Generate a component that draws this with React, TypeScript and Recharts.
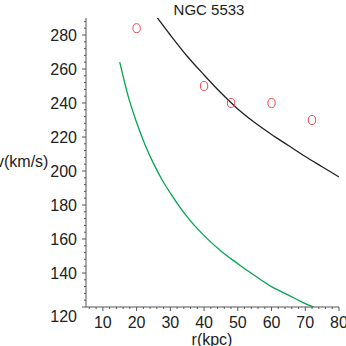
import { ComposedChart, Line, Scatter, XAxis, YAxis } from 'recharts'

// observed rotation curve of NGC 5533
const obsRadius = [20, 40, 48, 60, 72]
const obsVelocity = [284, 250, 240, 240, 230]

// black model curve
const fitRadius = [26, 30, 35, 40, 45, 50, 55, 60, 65, 70, 75, 80]
const fitVelocity = [290.5, 280, 267.5, 256.5, 246, 236.5, 228.5, 221.5, 215, 208.5, 202.5, 196.5]

// green curve
const kepRadius = [15, 17.5, 20, 22.5, 25, 27.5, 30, 35, 40, 45, 50, 55, 60, 65, 70, 72.5]
const kepVelocity = [264, 244, 228.5, 215.5, 204.5, 195, 187, 173, 162, 153, 145.5, 138.5, 132, 127, 122, 120]

const xTicks = Array.from({ length: 38 }, (_, i) => 6 + i * 2)
const yTicks = Array.from({ length: 43 }, (_, i) => 120 + i * 4)

const obsData = obsRadius.map((r, i) => ({ r, v: obsVelocity[i] }))
const fitData = fitRadius.map((r, i) => ({ r, v: fitVelocity[i] }))
const kepData = kepRadius.map((r, i) => ({ r, v: kepVelocity[i] }))

const font = '"Liberation Sans", Arial, sans-serif'
const axisColor = '#555'

function XTick({ x, y, payload }: any) {
  const major = payload.value % 10 === 0
  return (
    <g>
      <line x1={x} x2={x} y1={y} y2={y + (major ? 4 : 2)} stroke={axisColor} />
      {major && (
        <text x={x} y={y + 21} textAnchor="middle" fontSize={16} fill="#222" fontFamily={font}>
          {payload.value}
        </text>
      )}
    </g>
  )
}

function YTick({ x, y, payload }: any) {
  const major = payload.value % 20 === 0
  const shift = payload.value === 120 ? 9 : 0
  return (
    <g>
      <line x1={x - (major ? 4 : 2)} x2={x} y1={y} y2={y} stroke={axisColor} />
      {major && (
        <text x={x - 9} y={y + 6 + shift} textAnchor="end" fontSize={16} fill="#222" fontFamily={font}>
          {payload.value}
        </text>
      )}
    </g>
  )
}

function Ring({ cx, cy }: any) {
  return <ellipse cx={cx} cy={cy} rx={3.7} ry={4.5} fill="none" stroke="#f04a55" strokeWidth={1} />
}

export default function App() {
  return (
    <div style={{ position: 'absolute', left: 0, top: 0, width: 346, height: 346, background: '#fff', overflow: 'hidden', fontFamily: font }}>
      <ComposedChart width={346} height={346} margin={{ top: 18, right: 7, bottom: 0, left: 0 }}>
        <XAxis
          dataKey="r"
          type="number"
          domain={[5, 80]}
          ticks={xTicks}
          interval={0}
          allowDataOverflow
          height={39}
          tickSize={0}
          tickMargin={0}
          tickLine={false}
          tick={<XTick />}
          stroke={axisColor}
        />
        <YAxis
          dataKey="v"
          type="number"
          domain={[120, 290]}
          ticks={yTicks}
          interval={0}
          allowDataOverflow
          width={86}
          tickSize={0}
          tickMargin={0}
          tickLine={false}
          tick={<YTick />}
          stroke={axisColor}
        />
        <Line data={kepData} dataKey="v" type="monotone" stroke="#00a651" strokeWidth={1.3} dot={false} isAnimationActive={false} />
        <Line data={fitData} dataKey="v" type="monotone" stroke="#222" strokeWidth={1.3} dot={false} isAnimationActive={false} />
        <Scatter data={obsData} dataKey="v" shape={<Ring />} isAnimationActive={false} />
      </ComposedChart>
      <div style={{ position: 'absolute', left: 159, top: 2, width: 100, textAlign: 'center', fontSize: 15, lineHeight: '15px', color: '#222' }}>
        NGC 5533
      </div>
      <div style={{ position: 'absolute', left: -4, top: 153, fontSize: 16, color: '#222', whiteSpace: 'nowrap' }}>
        v(km/s)
      </div>
      <div style={{ position: 'absolute', left: 162, top: 331, width: 100, textAlign: 'center', fontSize: 16, color: '#222' }}>
        r(kpc)
      </div>
    </div>
  )
}
